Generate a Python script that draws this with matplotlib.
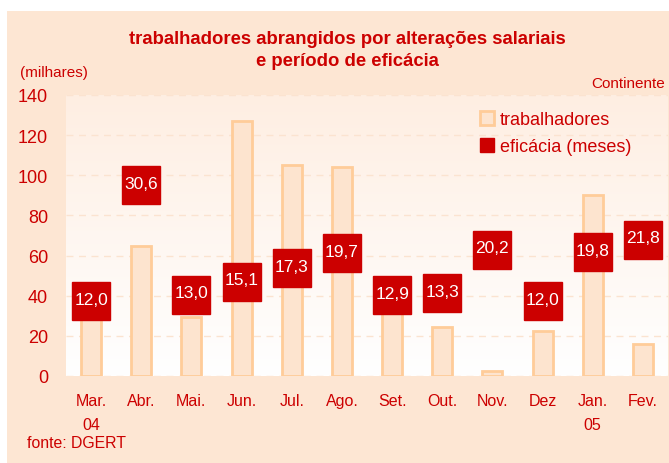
import numpy as np
import matplotlib.pyplot as plt
from matplotlib.patches import Rectangle, Patch
from matplotlib.colors import LinearSegmentedColormap

plt.rcParams['font.family'] = ['Liberation Sans', 'DejaVu Sans']

# dados
meses = ['Mar.\n04', 'Abr.', 'Mai.', 'Jun.', 'Jul.', 'Ago.', 'Set.', 'Out.',
         'Nov.', 'Dez', 'Jan.\n05', 'Fev.']
trabalhadores = [30, 65, 29.5, 127, 105, 104, 34, 24.5, 2.5, 22.5, 90, 16]
eficacia = [12.0, 30.6, 13.0, 15.1, 17.3, 19.7, 12.9, 13.3, 20.2, 12.0, 19.8, 21.8]

vermelho = '#CC0000'
pessego = '#FDE6D3'
barra_cor = '#FDE4CF'
barra_borda = '#FFCC99'

W, H = 669, 464
fig = plt.figure(figsize=(W / 100, H / 100), dpi=100, facecolor='white')
# fundo cor de pessego
fig.patches.append(Rectangle((7 / W, 0), 1, 1 - 12 / H, transform=fig.transFigure,
                             facecolor=pessego, edgecolor='none', zorder=-10))

ax = fig.add_axes([66 / W, 1 - 377 / H, (668 - 66) / W, (377 - 96) / H])
ax.set_facecolor('white')
# degradê no fundo do gráfico
grad = np.linspace(0, 1, 256).reshape(-1, 1)
cmap = LinearSegmentedColormap.from_list('g', ['white', '#FEEEE2'])
ax.imshow(grad, aspect='auto', cmap=cmap, extent=[0, 1, 0, 1],
          transform=ax.transAxes, origin='lower', zorder=0)

x = np.arange(len(meses))
ax.bar(x, trabalhadores, width=0.4, color=barra_cor, edgecolor=barra_borda,
       linewidth=2, zorder=2)
ax.set_xlim(-0.5, 11.5)
ax.set_ylim(0, 140)
ax.set_yticks(range(0, 141, 20))
for v in range(0, 141, 20):
    ax.axhline(v, color='#FBE3D0', linestyle=(0, (5, 4)), linewidth=1, zorder=1)
for s in ax.spines.values():
    s.set_visible(False)
ax.tick_params(axis='both', length=0, colors=vermelho)
ax.tick_params(axis='y', labelsize=13, pad=13)
ax.tick_params(axis='x', labelsize=11.5, pad=12)
ax.set_xticks(x)
ax.set_xticklabels(meses, linespacing=1.75)

ax2 = ax.twinx()
ax2.set_ylim(0, 45)
ax2.axis('off')
ax2.plot(x, eficacia, linestyle='none', marker='s', markersize=27,
         color=vermelho, markeredgecolor=vermelho, zorder=3)
for xi, v in zip(x, eficacia):
    ax2.text(xi, v + 0.3, f'{v:.1f}'.replace('.', ','), color='white',
             ha='center', va='center', fontsize=12.5, zorder=4)

handles = [Patch(facecolor=barra_cor, edgecolor=barra_borda, linewidth=2),
           Patch(facecolor=vermelho, edgecolor=vermelho)]
ax.legend(handles, ['trabalhadores', 'eficácia (meses)'], frameon=False,
          loc='upper left', bbox_to_anchor=(471 / W, 1 - 103 / H),
          bbox_transform=fig.transFigure, fontsize=13, labelcolor=vermelho,
          handlelength=0.8, handleheight=0.8, handletextpad=0.3,
          labelspacing=0.55, borderpad=0)

fig.text(347 / W, 1 - 40 / H, 'trabalhadores abrangidos por alterações salariais',
         ha='center', va='center', color=vermelho, fontsize=13.3, fontweight='bold')
fig.text(347 / W, 1 - 62 / H, 'e período de eficácia',
         ha='center', va='center', color=vermelho, fontsize=13.3, fontweight='bold')
fig.text(20 / W, 1 - 73 / H, '(milhares)', ha='left', va='center',
         color=vermelho, fontsize=11)
fig.text(665 / W, 1 - 84 / H, 'Continente', ha='right', va='center',
         color=vermelho, fontsize=11)
fig.text(27 / W, 1 - 444 / H, 'fonte: DGERT', ha='left', va='center',
         color=vermelho, fontsize=11.4)

fig.savefig('out.png', dpi=100, facecolor=fig.get_facecolor())
